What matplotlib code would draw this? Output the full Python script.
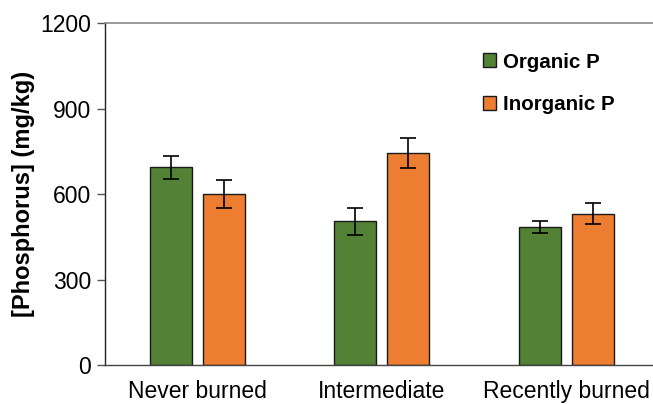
import matplotlib
matplotlib.use("Agg")
import matplotlib.pyplot as plt
import numpy as np

plt.rcParams['font.family'] = ['Liberation Sans', 'DejaVu Sans']

categories = ["Never burned", "Intermediate", "Recently burned"]
organic = [695, 505, 485]
organic_err = [40, 48, 21]
inorganic = [601, 746, 532]
inorganic_err = [50, 53, 37]
yticks = [0, 300, 600, 900, 1200]

green = "#538135"
orange = "#ED7D31"

fig = plt.figure(figsize=(6.53, 4.04), dpi=100)
ax = fig.add_axes([105/653, 39/404, 1 - 105/653, (365 - 23.4)/404])

x = np.arange(len(categories))
w = 0.2276
off = 0.1436
ekw = dict(ecolor="black", elinewidth=1.2, capsize=6, capthick=1.2)
ax.bar(x - off, organic, w, yerr=organic_err, color=green, edgecolor="#1a1a1a",
       linewidth=1.0, error_kw=ekw, label="Organic P")
ax.bar(x + off, inorganic, w, yerr=inorganic_err, color=orange, edgecolor="#1a1a1a",
       linewidth=1.0, error_kw=ekw, label="Inorganic P")

ax.set_xlim(-0.5, 2.47)
ax.set_ylim(0, 1200)
ax.set_yticks(yticks)
ax.set_yticklabels([str(v) for v in yticks], fontsize=16.5)
ax.set_xticks(x)
ax.set_xticklabels(categories, fontsize=16.5)
ax.tick_params(axis='x', length=0, pad=11)
ax.tick_params(axis='y', length=6, width=1, color="#555555", pad=4, direction='out')

ax.spines['right'].set_visible(False)
ax.spines['top'].set_color("#888888")
ax.spines['top'].set_linewidth(1.2)
ax.spines['left'].set_color("#222222")
ax.spines['left'].set_linewidth(1.0)
ax.spines['bottom'].set_color("#444444")
ax.spines['bottom'].set_linewidth(1.0)

ax.set_ylabel("[Phosphorus] (mg/kg)", fontsize=17, fontweight='bold', labelpad=4)

leg = ax.legend(loc='upper left', bbox_to_anchor=(464/653, 1 - 34/404),
                bbox_transform=fig.transFigure, frameon=False,
                prop={'weight': 'bold', 'size': 14.8}, handlelength=0.65,
                handleheight=0.65, labelspacing=1.15, handletextpad=0.35)

fig.savefig("out.png", dpi=100)
